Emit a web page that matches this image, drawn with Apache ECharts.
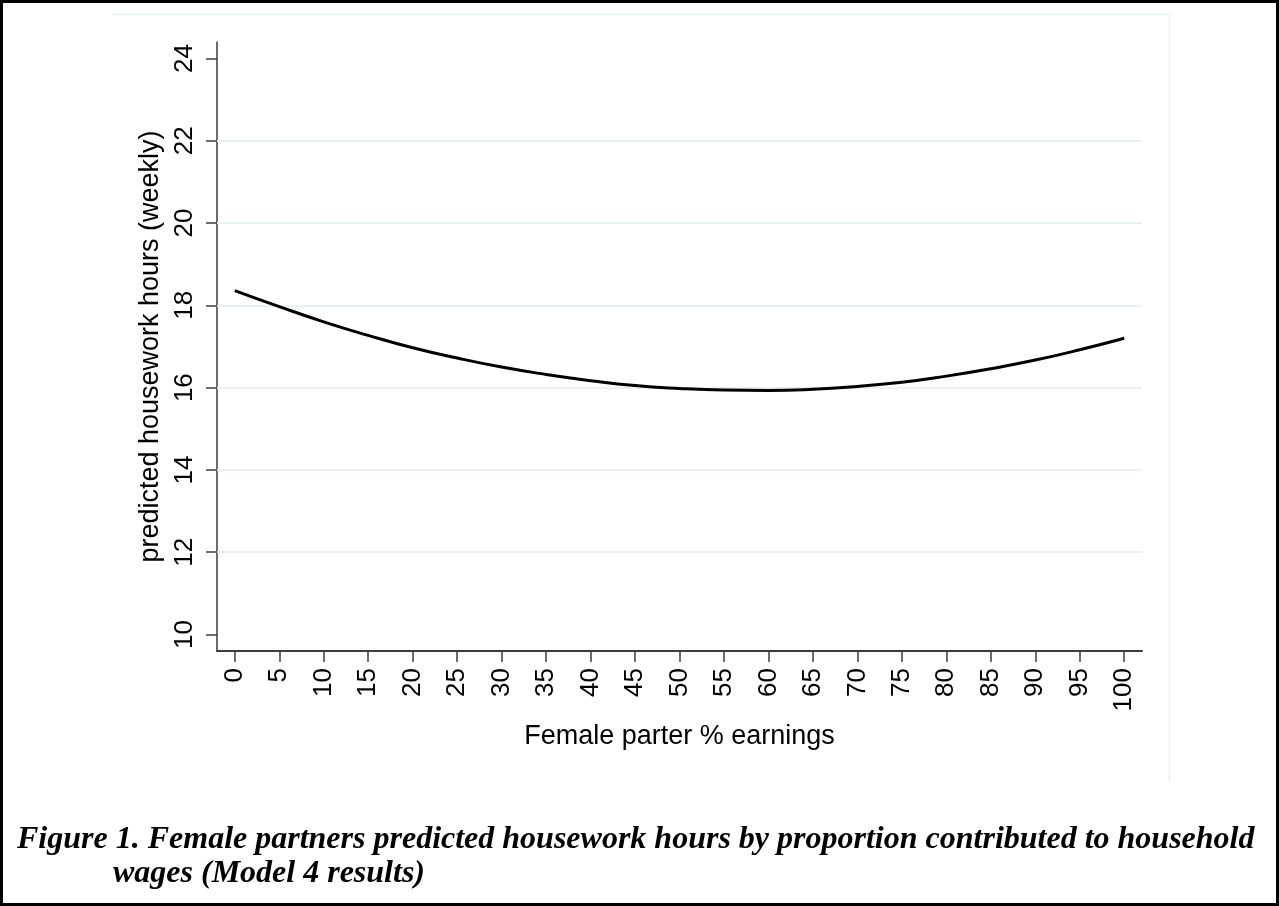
<!DOCTYPE html>
<html>
<head>
<meta charset="utf-8">
<script src="https://cdn.jsdelivr.net/npm/echarts@6/dist/echarts.min.js"></script>
<style>
html,body{margin:0;padding:0;background:#fff;}
#chart{width:1279px;height:906px;}
</style>
</head>
<body>
<div id="chart"></div>
<script>
// Data
const earningsPct = [0,5,10,15,20,25,30,35,40,45,50,55,60,65,70,75,80,85,90,95,100];
const predictedHours = [18.36,17.97,17.60,17.27,16.97,16.72,16.50,16.32,16.17,16.05,15.98,15.94,15.93,15.96,16.03,16.13,16.28,16.46,16.67,16.92,17.20];
const xTicks = [0,5,10,15,20,25,30,35,40,45,50,55,60,65,70,75,80,85,90,95,100];
const yTicks = [10,12,14,16,18,20,22,24];
const gridValues = [12,14,16,18,20,22];

const xTitle = 'Female parter % earnings';
const yTitle = 'predicted housework hours (weekly)';
const captionLine1 = 'Figure 1. Female partners predicted housework hours by proportion contributed to household';
const captionLine2 = 'wages (Model 4 results)';

const chart = echarts.init(document.getElementById('chart'), null, {renderer:'canvas'});
const axisColor = '#3c3c3c';
const font = 'Liberation Sans, Arial, Helvetica, sans-serif';
const capFont = 'italic bold 32px "Liberation Serif", "Times New Roman", serif';

chart.setOption({
  animation:false,
  backgroundColor:'#ffffff',
  grid:{left:217, right:137, top:42, bottom:255, containLabel:false},
  xAxis:{
    type:'value', min:-2, max:102,
    name:xTitle, nameLocation:'middle', nameGap:72,
    nameTextStyle:{fontFamily:font, fontSize:27, color:'#000'},
    axisLine:{show:true, onZero:false, lineStyle:{color:axisColor, width:2}},
    axisTick:{show:true, length:11, customValues:xTicks, lineStyle:{color:axisColor, width:1.5}},
    axisLabel:{show:true, customValues:xTicks, rotate:90, margin:17, fontFamily:font, fontSize:26, color:'#000'},
    splitLine:{show:false}
  },
  yAxis:{
    type:'value', min:9.6, max:24.4,
    name:yTitle, nameLocation:'middle', nameGap:45, nameRotate:90,
    nameTextStyle:{fontFamily:font, fontSize:27, color:'#000'},
    axisLine:{show:true, onZero:false, lineStyle:{color:axisColor, width:1.5}},
    axisTick:{show:true, length:11, customValues:yTicks, lineStyle:{color:axisColor, width:1.5}},
    axisLabel:{show:true, customValues:yTicks, rotate:90, margin:19, fontFamily:font, fontSize:26, color:'#000'},
    splitLine:{show:false}
  },
  series:[{
    type:'line',
    data:earningsPct.map((x,i)=>[x,predictedHours[i]]),
    smooth:true,
    showSymbol:false,
    lineStyle:{color:'#000', width:3},
    z:5,
    markLine:{
      silent:true, symbol:'none', animation:false,
      label:{show:false},
      lineStyle:{color:'#eaf1f2', width:2, type:'solid'},
      data:gridValues.map(v=>({yAxis:v})),
      z:1
    }
  }],
  graphic:[
    {type:'rect', shape:{x:1.5, y:1.5, width:1276, height:903}, style:{fill:null, stroke:'#000', lineWidth:3}, silent:true},
    {type:'line', shape:{x1:113, y1:14.5, x2:1169.5, y2:14.5}, style:{stroke:'#eaf1f2', lineWidth:1.5}, silent:true},
    {type:'line', shape:{x1:1169.5, y1:14.5, x2:1169.5, y2:782}, style:{stroke:'#eaf1f2', lineWidth:1.5}, silent:true},
    {type:'text', x:17, y:824, style:{text:captionLine1, font:capFont, fill:'#000'}, silent:true},
    {type:'text', x:113, y:858, style:{text:captionLine2, font:capFont, fill:'#000'}, silent:true}
  ]
});
</script>
</body>
</html>
